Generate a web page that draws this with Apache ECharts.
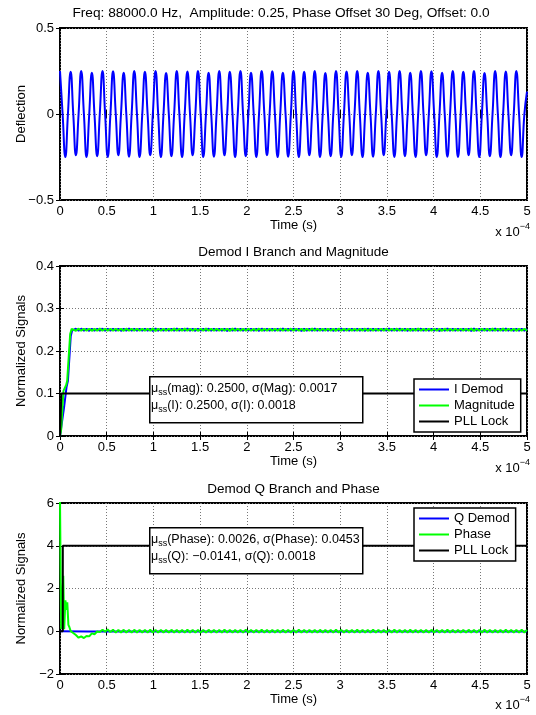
<!DOCTYPE html>
<html>
<head>
<meta charset="utf-8">
<script src="https://cdn.jsdelivr.net/npm/echarts@6/dist/echarts.min.js"></script>
<style>
  html, body { margin: 0; padding: 0; background: #fff; }
  #chart { width: 536px; height: 715px; }
</style>
</head>
<body>
<div id="chart"></div>
<script>
// time axis in units of 1e-4 s (one sample every quarter period of the 88 kHz drive)
const t = [
  0.000, 0.028, 0.057, 0.085, 0.114, 0.142, 0.170, 0.199, 0.227, 0.256, 0.284, 0.313, 0.341, 0.369, 0.398, 0.426,
  0.455, 0.483, 0.511, 0.540, 0.568, 0.597, 0.625, 0.653, 0.682, 0.710, 0.739, 0.767, 0.795, 0.824, 0.852, 0.881,
  0.909, 0.938, 0.966, 0.994, 1.023, 1.051, 1.080, 1.108, 1.136, 1.165, 1.193, 1.222, 1.250, 1.278, 1.307, 1.335,
  1.364, 1.392, 1.420, 1.449, 1.477, 1.506, 1.534, 1.563, 1.591, 1.619, 1.648, 1.676, 1.705, 1.733, 1.761, 1.790,
  1.818, 1.847, 1.875, 1.903, 1.932, 1.960, 1.989, 2.017, 2.045, 2.074, 2.102, 2.131, 2.159, 2.188, 2.216, 2.244,
  2.273, 2.301, 2.330, 2.358, 2.386, 2.415, 2.443, 2.472, 2.500, 2.528, 2.557, 2.585, 2.614, 2.642, 2.670, 2.699,
  2.727, 2.756, 2.784, 2.813, 2.841, 2.869, 2.898, 2.926, 2.955, 2.983, 3.011, 3.040, 3.068, 3.097, 3.125, 3.153,
  3.182, 3.210, 3.239, 3.267, 3.295, 3.324, 3.352, 3.381, 3.409, 3.438, 3.466, 3.494, 3.523, 3.551, 3.580, 3.608,
  3.636, 3.665, 3.693, 3.722, 3.750, 3.778, 3.807, 3.835, 3.864, 3.892, 3.920, 3.949, 3.977, 4.006, 4.034, 4.063,
  4.091, 4.119, 4.148, 4.176, 4.205, 4.233, 4.261, 4.290, 4.318, 4.347, 4.375, 4.403, 4.432, 4.460, 4.489, 4.517,
  4.545, 4.574, 4.602, 4.631, 4.659, 4.688, 4.716, 4.744, 4.773, 4.801, 4.830, 4.858, 4.886, 4.915, 4.943, 4.972,
  5.000
];

const deflection = [
  0.25,0,-0.25,0, 0.245,0,-0.24,0, 0.25,0,-0.25,0, 0.24,0,-0.245,0,
  0.25,0,-0.25,0, 0.248,0,-0.24,0, 0.24,0,-0.248,0, 0.25,0,-0.25,0,
  0.245,0,-0.24,0, 0.25,0,-0.25,0, 0.238,0,-0.245,0, 0.25,0,-0.25,0,
  0.247,0,-0.24,0, 0.25,0,-0.25,0, 0.24,0,-0.248,0, 0.25,0,-0.24,0,
  0.246,0,-0.25,0, 0.25,0,-0.245,0, 0.24,0,-0.25,0, 0.25,0,-0.24,0,
  0.248,0,-0.25,0, 0.24,0,-0.248,0, 0.25,0,-0.25,0, 0.245,0,-0.24,0,
  0.25,0,-0.25,0, 0.238,0,-0.245,0, 0.25,0,-0.25,0, 0.247,0,-0.24,0,
  0.25,0,-0.25,0, 0.24,0,-0.248,0, 0.25,0,-0.24,0, 0.246,0,-0.25,0,
  0.25,0,-0.245,0, 0.24,0,-0.25,0, 0.25,0,-0.24,0, 0.248,0,-0.25,0,
  0.24,0,-0.248,0, 0.25,0,-0.25,0, 0.245,0,-0.24,0, 0.25,0,-0.25,0,
  0.238,0,-0.245,0, 0.25,0,-0.25,0, 0.247,0,-0.24,0, 0.25,0,-0.25,0,
  0.13
];

// start-up transients [time, value]
const iDemodStart = [[0, 0], [0.02, 0.0], [0.045, 0.07], [0.07, 0.115], [0.085, 0.13], [0.115, 0.235], [0.13, 0.248]];
const magStart = [[0, 0], [0.013, 0.016], [0.037, 0.106], [0.066, 0.12], [0.077, 0.13], [0.109, 0.24], [0.125, 0.252]];
const qDemodData = [[0, 0], [0.02, 0.0], [0.3, -0.01], [5, -0.014]];
const phaseStart = [[0, 6.2], [0.012, 0.1], [0.025, 0.05], [0.035, 2.6], [0.045, 0.1], [0.058, 1.45], [0.068, 1.0],
  [0.078, 1.35], [0.09, 0.3], [0.1, 0.2], [0.115, 0.0], [0.13, -0.05]];

// steady-state samples, taken at t[5] ... t[176]
const magSteady = [
  0.2524,0.2476,0.2526,0.2475,0.2523,0.2477,0.2525,0.2474, 0.2522,0.2477,0.2526,0.2476,0.2524,0.2475,0.2523,0.2478,
  0.2525,0.2476,0.2524,0.2474,0.2526,0.2477,0.2523,0.2476, 0.2524,0.2475,0.2525,0.2477,0.2522,0.2476,0.2526,0.2474,
  0.2523,0.2477,0.2525,0.2476,0.2524,0.2475,0.2526,0.2477, 0.2524,0.2476,0.2526,0.2475,0.2523,0.2477,0.2525,0.2474,
  0.2522,0.2477,0.2526,0.2476,0.2524,0.2475,0.2523,0.2478, 0.2525,0.2476,0.2524,0.2474,0.2526,0.2477,0.2523,0.2476,
  0.2524,0.2475,0.2525,0.2477,0.2522,0.2476,0.2526,0.2474, 0.2523,0.2477,0.2525,0.2476,0.2524,0.2475,0.2526,0.2477,
  0.2524,0.2476,0.2526,0.2475,0.2523,0.2477,0.2525,0.2474, 0.2522,0.2477,0.2526,0.2476,0.2524,0.2475,0.2523,0.2478,
  0.2525,0.2476,0.2524,0.2474,0.2526,0.2477,0.2523,0.2476, 0.2524,0.2475,0.2525,0.2477,0.2522,0.2476,0.2526,0.2474,
  0.2523,0.2477,0.2525,0.2476,0.2524,0.2475,0.2526,0.2477, 0.2524,0.2476,0.2526,0.2475,0.2523,0.2477,0.2525,0.2474,
  0.2522,0.2477,0.2526,0.2476,0.2524,0.2475,0.2523,0.2478, 0.2525,0.2476,0.2524,0.2474,0.2526,0.2477,0.2523,0.2476,
  0.2524,0.2475,0.2525,0.2477,0.2522,0.2476,0.2526,0.2474, 0.2523,0.2477,0.2525,0.2476,0.2524,0.2475,0.2526,0.2477,
  0.2524,0.2476,0.2526,0.2475,0.2523,0.2477,0.2525,0.2474, 0.2524,0.2476,0.2525,0.2475
];
const iDemodSteady = [
  0.2476,0.2524,0.2475,0.2526,0.2477,0.2523,0.2474,0.2525, 0.2477,0.2522,0.2476,0.2526,0.2475,0.2524,0.2478,0.2523,
  0.2476,0.2525,0.2474,0.2524,0.2477,0.2526,0.2476,0.2523, 0.2475,0.2524,0.2477,0.2525,0.2476,0.2522,0.2474,0.2526,
  0.2477,0.2523,0.2476,0.2525,0.2475,0.2524,0.2477,0.2526, 0.2476,0.2524,0.2475,0.2526,0.2477,0.2523,0.2474,0.2525,
  0.2477,0.2522,0.2476,0.2526,0.2475,0.2524,0.2478,0.2523, 0.2476,0.2525,0.2474,0.2524,0.2477,0.2526,0.2476,0.2523,
  0.2475,0.2524,0.2477,0.2525,0.2476,0.2522,0.2474,0.2526, 0.2477,0.2523,0.2476,0.2525,0.2475,0.2524,0.2477,0.2526,
  0.2476,0.2524,0.2475,0.2526,0.2477,0.2523,0.2474,0.2525, 0.2477,0.2522,0.2476,0.2526,0.2475,0.2524,0.2478,0.2523,
  0.2476,0.2525,0.2474,0.2524,0.2477,0.2526,0.2476,0.2523, 0.2475,0.2524,0.2477,0.2525,0.2476,0.2522,0.2474,0.2526,
  0.2477,0.2523,0.2476,0.2525,0.2475,0.2524,0.2477,0.2526, 0.2476,0.2524,0.2475,0.2526,0.2477,0.2523,0.2474,0.2525,
  0.2477,0.2522,0.2476,0.2526,0.2475,0.2524,0.2478,0.2523, 0.2476,0.2525,0.2474,0.2524,0.2477,0.2526,0.2476,0.2523,
  0.2475,0.2524,0.2477,0.2525,0.2476,0.2522,0.2474,0.2526, 0.2477,0.2523,0.2476,0.2525,0.2475,0.2524,0.2477,0.2526,
  0.2476,0.2524,0.2475,0.2526,0.2477,0.2523,0.2474,0.2525, 0.2476,0.2524,0.2475,0.2525
];
const phaseSteady = [
  -0.08,-0.18,-0.30,-0.24,-0.32,-0.22,-0.24,-0.10,-0.14,-0.01,-0.04,0.07,-0.02,0.08,-0.04,
  0.068,-0.062,0.064,-0.058,0.066,-0.060,0.062,-0.064, 0.067,-0.059,0.065,-0.061,0.063,-0.063,0.068,-0.058,
  0.064,-0.062,0.066,-0.060,0.062,-0.064,0.067,-0.059, 0.065,-0.061,0.063,-0.063,0.068,-0.058,0.064,-0.062,
  0.066,-0.060,0.062,-0.064,0.067,-0.059,0.065,-0.061, 0.063,-0.063,0.068,-0.058,0.064,-0.062,0.066,-0.060,
  0.062,-0.064,0.067,-0.059,0.065,-0.061,0.063,-0.063, 0.068,-0.058,0.064,-0.062,0.066,-0.060,0.062,-0.064,
  0.067,-0.059,0.065,-0.061,0.063,-0.063,0.068,-0.058, 0.064,-0.062,0.066,-0.060,0.062,-0.064,0.067,-0.059,
  0.065,-0.061,0.063,-0.063,0.068,-0.058,0.064,-0.062, 0.066,-0.060,0.062,-0.064,0.067,-0.059,0.065,-0.061,
  0.063,-0.063,0.068,-0.058,0.064,-0.062,0.066,-0.060, 0.062,-0.064,0.067,-0.059,0.065,-0.061,0.063,-0.063,
  0.068,-0.058,0.064,-0.062,0.066,-0.060,0.062,-0.064, 0.067,-0.059,0.065,-0.061,0.063,-0.063,0.068,-0.058,
  0.064,-0.062,0.066,-0.060,0.062,-0.064,0.067,-0.059, 0.065,-0.061,0.063,-0.063,0.068,-0.058,0.064,-0.062,
  0.066,-0.060,0.062,-0.064,0.067,-0.059,0.065,-0.061, 0.063,-0.063,0.068,-0.058,0.064
];

const pllLockI = [[0, 0], [0.015, 0], [0.015, 0.1], [5, 0.1]];
const pllLockQ = [[0, 0], [0.03, 0], [0.03, 4], [5, 4]];

// axis ranges [min, max, interval]
const timeRange = [0, 5, 0.5];
const deflRange = [-0.5, 0.5, 0.5];
const iRange = [0, 0.4, 0.1];
const qRange = [-2, 6, 2];

const titles = [
  'Freq: 88000.0 Hz,  Amplitude: 0.25, Phase Offset 30 Deg, Offset: 0.0',
  'Demod I Branch and Magnitude',
  'Demod Q Branch and Phase'
];
const magStats = [0.2500, 0.0017];
const iStats = [0.2500, 0.0018];
const phaseStats = [0.0026, 0.0453];
const qStats = [-0.0141, 0.0018];

const FONT = '"Liberation Sans", Arial, Helvetica, sans-serif';
const MINUS = '\u2212';
const zip = (xs, ys) => xs.map((x, i) => [x, ys[i]]);
const steadyT = t.slice(5);
const f4 = v => v.toFixed(4).replace('-', MINUS);
const tick = v => String(Math.round(v * 1000) / 1000).replace('-', MINUS);

const grids = [
  { left: 60, right: 9, top: 28, height: 172 },
  { left: 60, right: 9, top: 266, height: 170 },
  { left: 60, right: 9, top: 503, height: 171 }
].map(g => Object.assign(g, { show: true, borderColor: '#000', borderWidth: 2, backgroundColor: '#fff', outerBoundsMode: 'none' }));

const tickStyle = { show: true, inside: true, length: 4, lineStyle: { color: '#000', width: 1 } };
const gridLine = { show: true, lineStyle: { type: [1, 2], color: '#777', width: 1 } };
const labelStyle = { color: '#000', fontSize: 13, fontFamily: FONT };

function xAxes(gi) {
  const base = { type: 'value', gridIndex: gi, min: timeRange[0], max: timeRange[1], interval: timeRange[2],
    axisLine: { show: false }, axisTick: tickStyle };
  return [
    Object.assign({}, base, { position: 'bottom', name: 'Time (s)', nameLocation: 'middle', nameGap: 19,
      nameMoveOverlap: false, nameTextStyle: labelStyle,
      axisLabel: Object.assign({ margin: 5, formatter: tick, showMinLabel: true, showMaxLabel: true }, labelStyle),
      splitLine: gridLine }),
    Object.assign({}, base, { position: 'top', axisLabel: { show: false }, splitLine: { show: false } })
  ];
}
function yAxes(gi, range, name) {
  const base = { type: 'value', gridIndex: gi, min: range[0], max: range[1], interval: range[2],
    axisLine: { show: false }, axisTick: tickStyle };
  return [
    Object.assign({}, base, { position: 'left', name: name, nameLocation: 'middle', nameGap: 32,
      nameMoveOverlap: false, nameTextStyle: labelStyle,
      axisLabel: Object.assign({ margin: 6, formatter: tick, showMinLabel: true, showMaxLabel: true }, labelStyle),
      splitLine: gridLine }),
    Object.assign({}, base, { position: 'right', axisLabel: { show: false }, splitLine: { show: false } })
  ];
}

function line(name, color, xi, yi, data, smooth) {
  return { name: name, type: 'line', xAxisIndex: xi, yAxisIndex: yi, data: data, smooth: !!smooth,
    symbol: 'none', color: color, lineStyle: { color: color, width: 2 }, animation: false };
}

const BLUE = '#0000ff', GREEN = '#00ff00', BLACK = '#000000';

function statBox(top, lines) {
  return [
    { type: 'rect', left: 149, top: top, z: 50,
      shape: { x: 0, y: 0, width: 213, height: 46 },
      style: { fill: '#fff', stroke: '#000', lineWidth: 1.5 } },
    { type: 'text', left: 151, top: top + 6, z: 51,
      style: {
        text: lines.join('\n'),
        rich: {
          m: { fontSize: 12.5, fontFamily: FONT, fill: '#000', lineHeight: 17 },
          s: { fontSize: 9, fontFamily: FONT, fill: '#000', lineHeight: 6, verticalAlign: 'bottom' }
        }
      } }
  ];
}

function exponent(y) {
  return { type: 'text', x: 530, y: y, z: 50,
    style: { text: '{b|x 10}{e|' + MINUS + '4}', align: 'right', verticalAlign: 'middle',
      rich: {
        b: { fontSize: 13, fontFamily: FONT, fill: '#000', lineHeight: 20 },
        e: { fontSize: 9, fontFamily: FONT, fill: '#000', lineHeight: 9, verticalAlign: 'top' }
      } } };
}

function titleText(text, x, y, size) {
  return { type: 'text', x: x, y: y, z: 50,
    style: { text: text, align: 'center', verticalAlign: 'middle', fontSize: size, fontFamily: FONT, fill: '#000' } };
}

const legendBase = {
  orient: 'vertical', left: 414, icon: 'rect', itemWidth: 30, itemHeight: 2, itemGap: 3,
  padding: [4, 6, 4, 5], backgroundColor: '#fff', borderColor: '#000', borderWidth: 1.5, borderRadius: 0,
  selectedMode: false, textStyle: { color: '#000', fontSize: 13, fontFamily: FONT }, z: 40
};

const option = {
  backgroundColor: '#fff',
  animation: false,
  grid: grids,
  xAxis: [].concat(xAxes(0), xAxes(1), xAxes(2)),
  yAxis: [].concat(yAxes(0, deflRange, 'Deflection'), yAxes(1, iRange, 'Normalized Signals'), yAxes(2, qRange, 'Normalized Signals')),
  legend: [
    Object.assign({}, legendBase, { top: 379, data: ['I Demod', 'Magnitude', 'PLL Lock'] }),
    Object.assign({}, legendBase, { top: 508, data: ['Q Demod', 'Phase', 'PLL Lock'] })
  ],
  series: [
    line('Deflection', BLUE, 0, 0, zip(t, deflection), true),
    line('I Demod', BLUE, 2, 2, iDemodStart.concat(zip(steadyT, iDemodSteady))),
    line('Magnitude', GREEN, 2, 2, magStart.concat(zip(steadyT, magSteady))),
    line('PLL Lock', BLACK, 2, 2, pllLockI),
    line('Q Demod', BLUE, 4, 4, qDemodData),
    line('Phase', GREEN, 4, 4, phaseStart.concat(zip(steadyT, phaseSteady))),
    line('PLL Lock', BLACK, 4, 4, pllLockQ)
  ],
  graphic: [
    titleText(titles[0], 281, 13, 13.7),
    titleText(titles[1], 293.5, 252, 13.5),
    titleText(titles[2], 293.5, 489, 13.5),
    exponent(232),
    exponent(468),
    exponent(705)
  ].concat(
    statBox(376, [
      '{m|\u03bc}{s|ss}{m|(mag): ' + f4(magStats[0]) + ', \u03c3(Mag): ' + f4(magStats[1]) + '}',
      '{m|\u03bc}{s|ss}{m|(I): ' + f4(iStats[0]) + ', \u03c3(I): ' + f4(iStats[1]) + '}'
    ]),
    statBox(527, [
      '{m|\u03bc}{s|ss}{m|(Phase): ' + f4(phaseStats[0]) + ', \u03c3(Phase): ' + f4(phaseStats[1]) + '}',
      '{m|\u03bc}{s|ss}{m|(Q): ' + f4(qStats[0]) + ', \u03c3(Q): ' + f4(qStats[1]) + '}'
    ])
  )
};

const chart = echarts.init(document.getElementById('chart'), null, { renderer: 'canvas' });
chart.setOption(option);
</script>
</body>
</html>
